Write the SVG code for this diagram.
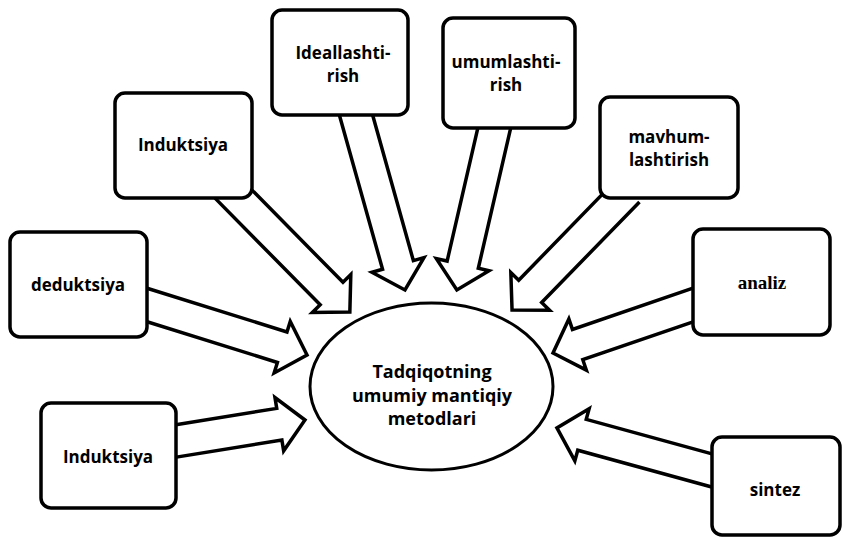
<svg xmlns="http://www.w3.org/2000/svg" width="843" height="537" viewBox="0 0 843 537">
<style>
.box{fill:#fff;stroke:#000;stroke-width:3.5;stroke-linejoin:round}
.arr{fill:#fff;stroke:#000;stroke-width:3.5;stroke-linejoin:miter}
.t{font-family:"Open Sans","Liberation Sans",sans-serif;font-weight:bold;font-size:17px;text-anchor:middle;fill:#000}
.c{font-size:18px}
.s{font-family:"Liberation Serif",serif;font-weight:bold;font-size:19px;text-anchor:middle;fill:#000}
.e{fill:#fff;stroke:#000;stroke-width:3}
</style>
<rect width="843" height="537" fill="#fff"/>
<g id="connectors">
<path class="arr" transform="translate(137.5,302) rotate(17.35)" d="M0,-16 H151.6 V-27 L177.6,0 L151.6,27 V16 H0"/>
<path class="arr" transform="translate(166.1,442.6) rotate(-9.25)" d="M0,-16 H114.7 V-27 L140.7,0 L114.7,27 V16 H0"/>
<path class="arr" transform="translate(226.4,186.9) rotate(45.4)" d="M0,-16 H149.8 V-27 L175.8,0 L149.8,27 V16 H0"/>
<path class="arr" transform="translate(353.3,105.4) rotate(74.36)" d="M0,-16 H165.7 V-27 L191.7,0 L165.7,27 V16 H0"/>
<path class="arr" transform="translate(497.2,115.3) rotate(103)" d="M0,-16 H153.3 V-27 L179.3,0 L153.3,27 V16 H0"/>
<path class="arr" transform="translate(628,190.8) rotate(134.2)" d="M0,-16 H140.3 V-27 L166.3,0 L140.3,27 V16 H0"/>
<path class="arr" transform="translate(702.5,301.8) rotate(161.1)" d="M0,-16 H132 V-27 L158,0 L132,27 V16 H0"/>
<path class="arr" transform="translate(719.6,472.6) rotate(195.35)" d="M0,-16 H142.7 V-27 L168.7,0 L142.7,27 V16 H0"/>
</g>
<g id="center">
<ellipse class="e" cx="431.5" cy="386.5" rx="121.5" ry="83.5"/>
<text class="t c" x="432" y="378">Tadqiqotning</text>
<text class="t c" x="432" y="402">umumiy mantiqiy</text>
<text class="t c" x="432" y="425">metodlari</text>
</g>
<g id="deduktsiya">
<rect class="box" x="10" y="232" width="137" height="105" rx="10"/>
<text class="t" x="78" y="291">deduktsiya</text>
</g>
<g id="induktsiya-bottom">
<rect class="box" x="41" y="403" width="135" height="105" rx="10"/>
<text class="t" x="108" y="463">Induktsiya</text>
</g>
<g id="induktsiya-top">
<rect class="box" x="115" y="93" width="137" height="105" rx="10"/>
<text class="t" x="183" y="151">Induktsiya</text>
</g>
<g id="ideallashtirish">
<rect class="box" x="272" y="10" width="136" height="105" rx="10"/>
<text class="t" x="343" y="59">Ideallashti-</text>
<text class="t" x="343" y="82">rish</text>
</g>
<g id="umumlashtirish">
<rect class="box" x="443" y="18" width="132" height="110" rx="10"/>
<text class="t" x="506" y="68">umumlashti-</text>
<text class="t" x="506" y="91">rish</text>
</g>
<g id="mavhumlashtirish">
<rect class="box" x="600" y="97" width="138" height="101" rx="10"/>
<text class="t" x="669" y="143">mavhum-</text>
<text class="t" x="669" y="166">lashtirish</text>
</g>
<g id="analiz">
<rect class="box" x="693" y="229" width="137" height="106" rx="10"/>
<text class="s" x="762" y="289">analiz</text>
</g>
<g id="sintez">
<rect class="box" x="712" y="437" width="128" height="98" rx="10"/>
<text class="t" x="775" y="496">sintez</text>
</g>
</svg>
